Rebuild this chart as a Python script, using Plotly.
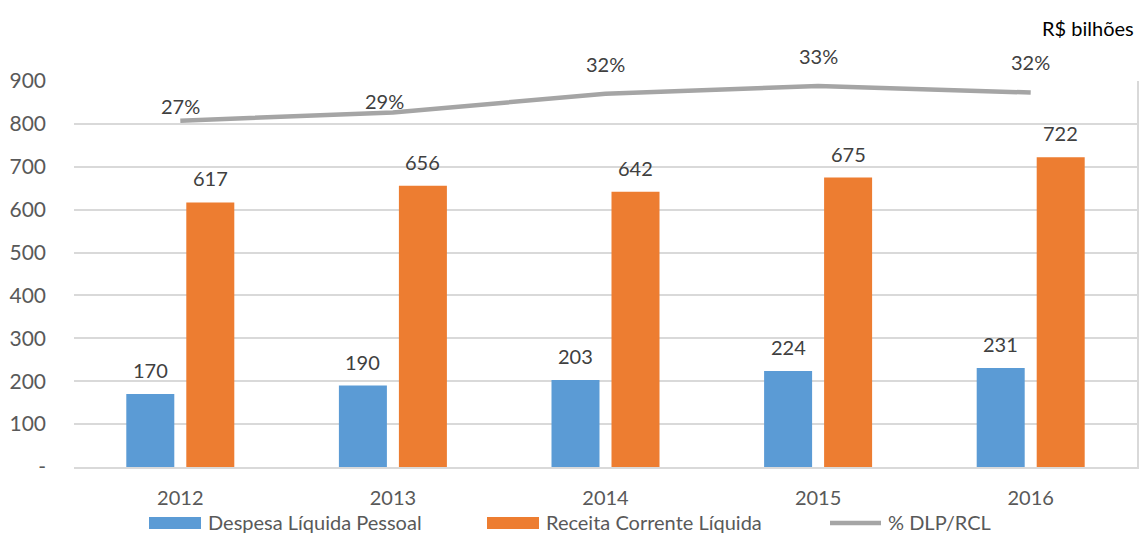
import plotly.graph_objects as go

# Data (R$ bilhões)
years = ["2012", "2013", "2014", "2015", "2016"]
despesa = [170, 190, 203, 224, 231]          # Despesa Líquida Pessoal
receita = [617, 656, 642, 675, 722]          # Receita Corrente Líquida
dlp_rcl = [0.272, 0.286, 0.317, 0.330, 0.319]  # % DLP/RCL

y_ticks = [0, 100, 200, 300, 400, 500, 600, 700, 800, 900]
y_ticktext = ["-"] + [str(v) for v in y_ticks[1:]]

# Styling
BLUE = "#5b9bd5"
ORANGE = "#ed7d31"
GRAY = "#a5a5a5"
GRID = "#d9d9d9"
AXIS_TXT = "#595959"
LABEL_TXT = "#404040"
FONT = "Lato"

W, H = 1145, 534
ML, MR, MT, MB = 74, 8, 81, 67
PW, PH = W - ML - MR, H - MT - MB

BARGAP, GROUPGAP = 0.4356, 0.2
cat_px = PW / len(years)
bar_offset = cat_px * (1 - BARGAP) / 4  # horizontal offset of each bar from category centre

# vertical lift (px) of each percentage label above its point
pct_lift = [15, 11, 30, 30, 31]
pct_xshift = [0, -8, 0, 0, 0]


def px_x(px):
    return (px - ML) / PW


def px_y(py):
    return (H - MB - py) / PH


fig = go.Figure()
fig.add_trace(go.Bar(x=years, y=despesa, name="Despesa Líquida Pessoal",
                     marker=dict(color=BLUE, line=dict(width=0)), hoverinfo="skip"))
fig.add_trace(go.Bar(x=years, y=receita, name="Receita Corrente Líquida",
                     marker=dict(color=ORANGE, line=dict(width=0)), hoverinfo="skip"))
fig.add_trace(go.Scatter(x=years, y=dlp_rcl, name="% DLP/RCL", yaxis="y2", mode="lines",
                         line=dict(color=GRAY, width=4.5), hoverinfo="skip"))

annotations = []
# on a category axis, annotations are placed by category index
for i, (d, r) in enumerate(zip(despesa, receita)):
    annotations.append(dict(x=i, y=d, xref="x", yref="y", text=str(d), showarrow=False,
                            xshift=-bar_offset, yshift=24, yanchor="middle",
                            font=dict(family=FONT, size=20, color=LABEL_TXT)))
    annotations.append(dict(x=i, y=r, xref="x", yref="y", text=str(r), showarrow=False,
                            xshift=bar_offset, yshift=24, yanchor="middle",
                            font=dict(family=FONT, size=20, color=LABEL_TXT)))
for i, (p, lift, xs) in enumerate(zip(dlp_rcl, pct_lift, pct_xshift)):
    annotations.append(dict(x=i, y=p, xref="x", yref="y2", text=f"{p:.0%}", showarrow=False,
                            xshift=xs, yshift=lift, yanchor="middle",
                            font=dict(family=FONT, size=20, color=LABEL_TXT)))

# unit note
annotations.append(dict(x=px_x(1136), y=px_y(28), xref="paper", yref="paper", text="R$ bilhões",
                        showarrow=False, xanchor="right", yanchor="middle",
                        font=dict(family=FONT, size=20, color="#000000")))

# custom legend along the bottom
legend_y = 522
shapes = [
    dict(type="rect", xref="paper", yref="paper", x0=px_x(149), x1=px_x(201),
         y0=px_y(529), y1=px_y(517), fillcolor=BLUE, line=dict(width=0)),
    dict(type="rect", xref="paper", yref="paper", x0=px_x(487), x1=px_x(539),
         y0=px_y(529), y1=px_y(517), fillcolor=ORANGE, line=dict(width=0)),
    dict(type="line", xref="paper", yref="paper", x0=px_x(830), x1=px_x(881),
         y0=px_y(523), y1=px_y(523), line=dict(color=GRAY, width=4.5)),
]
for x_left, label in [(206, "Despesa Líquida Pessoal"), (544, "Receita Corrente Líquida"),
                      (886, "% DLP/RCL")]:
    annotations.append(dict(x=px_x(x_left), y=px_y(legend_y), xref="paper", yref="paper",
                            text=label, showarrow=False, xanchor="left", yanchor="middle",
                            font=dict(family=FONT, size=20, color=AXIS_TXT)))

fig.update_layout(
    width=W, height=H,
    margin=dict(l=ML, r=MR, t=MT, b=MB, pad=0),
    paper_bgcolor="white", plot_bgcolor="white",
    barmode="group", bargap=BARGAP, bargroupgap=GROUPGAP,
    showlegend=False,
    font=dict(family=FONT, size=20, color=AXIS_TXT),
    xaxis=dict(type="category", categoryorder="array", categoryarray=years,
               range=[-0.5, len(years) - 0.5], showgrid=False, showline=True,
               linecolor=GRID, linewidth=1.5, ticks="",
               tickfont=dict(family=FONT, size=20, color=AXIS_TXT),
               ticklabelstandoff=12, zeroline=False),
    yaxis=dict(range=[0, 900], tickvals=y_ticks, ticktext=y_ticktext, showgrid=True,
               gridcolor=GRID, gridwidth=1.5, zeroline=False, showline=False, ticks="",
               tickfont=dict(family=FONT, size=21, color=AXIS_TXT), ticklabelstandoff=27),
    yaxis2=dict(overlaying="y", side="right", range=[-0.305, 0.3383], showgrid=False,
                showticklabels=False, ticks="", zeroline=False, showline=True,
                linecolor=GRID, linewidth=1.5),
    annotations=annotations,
    shapes=shapes,
)

fig.write_html("out.html")
